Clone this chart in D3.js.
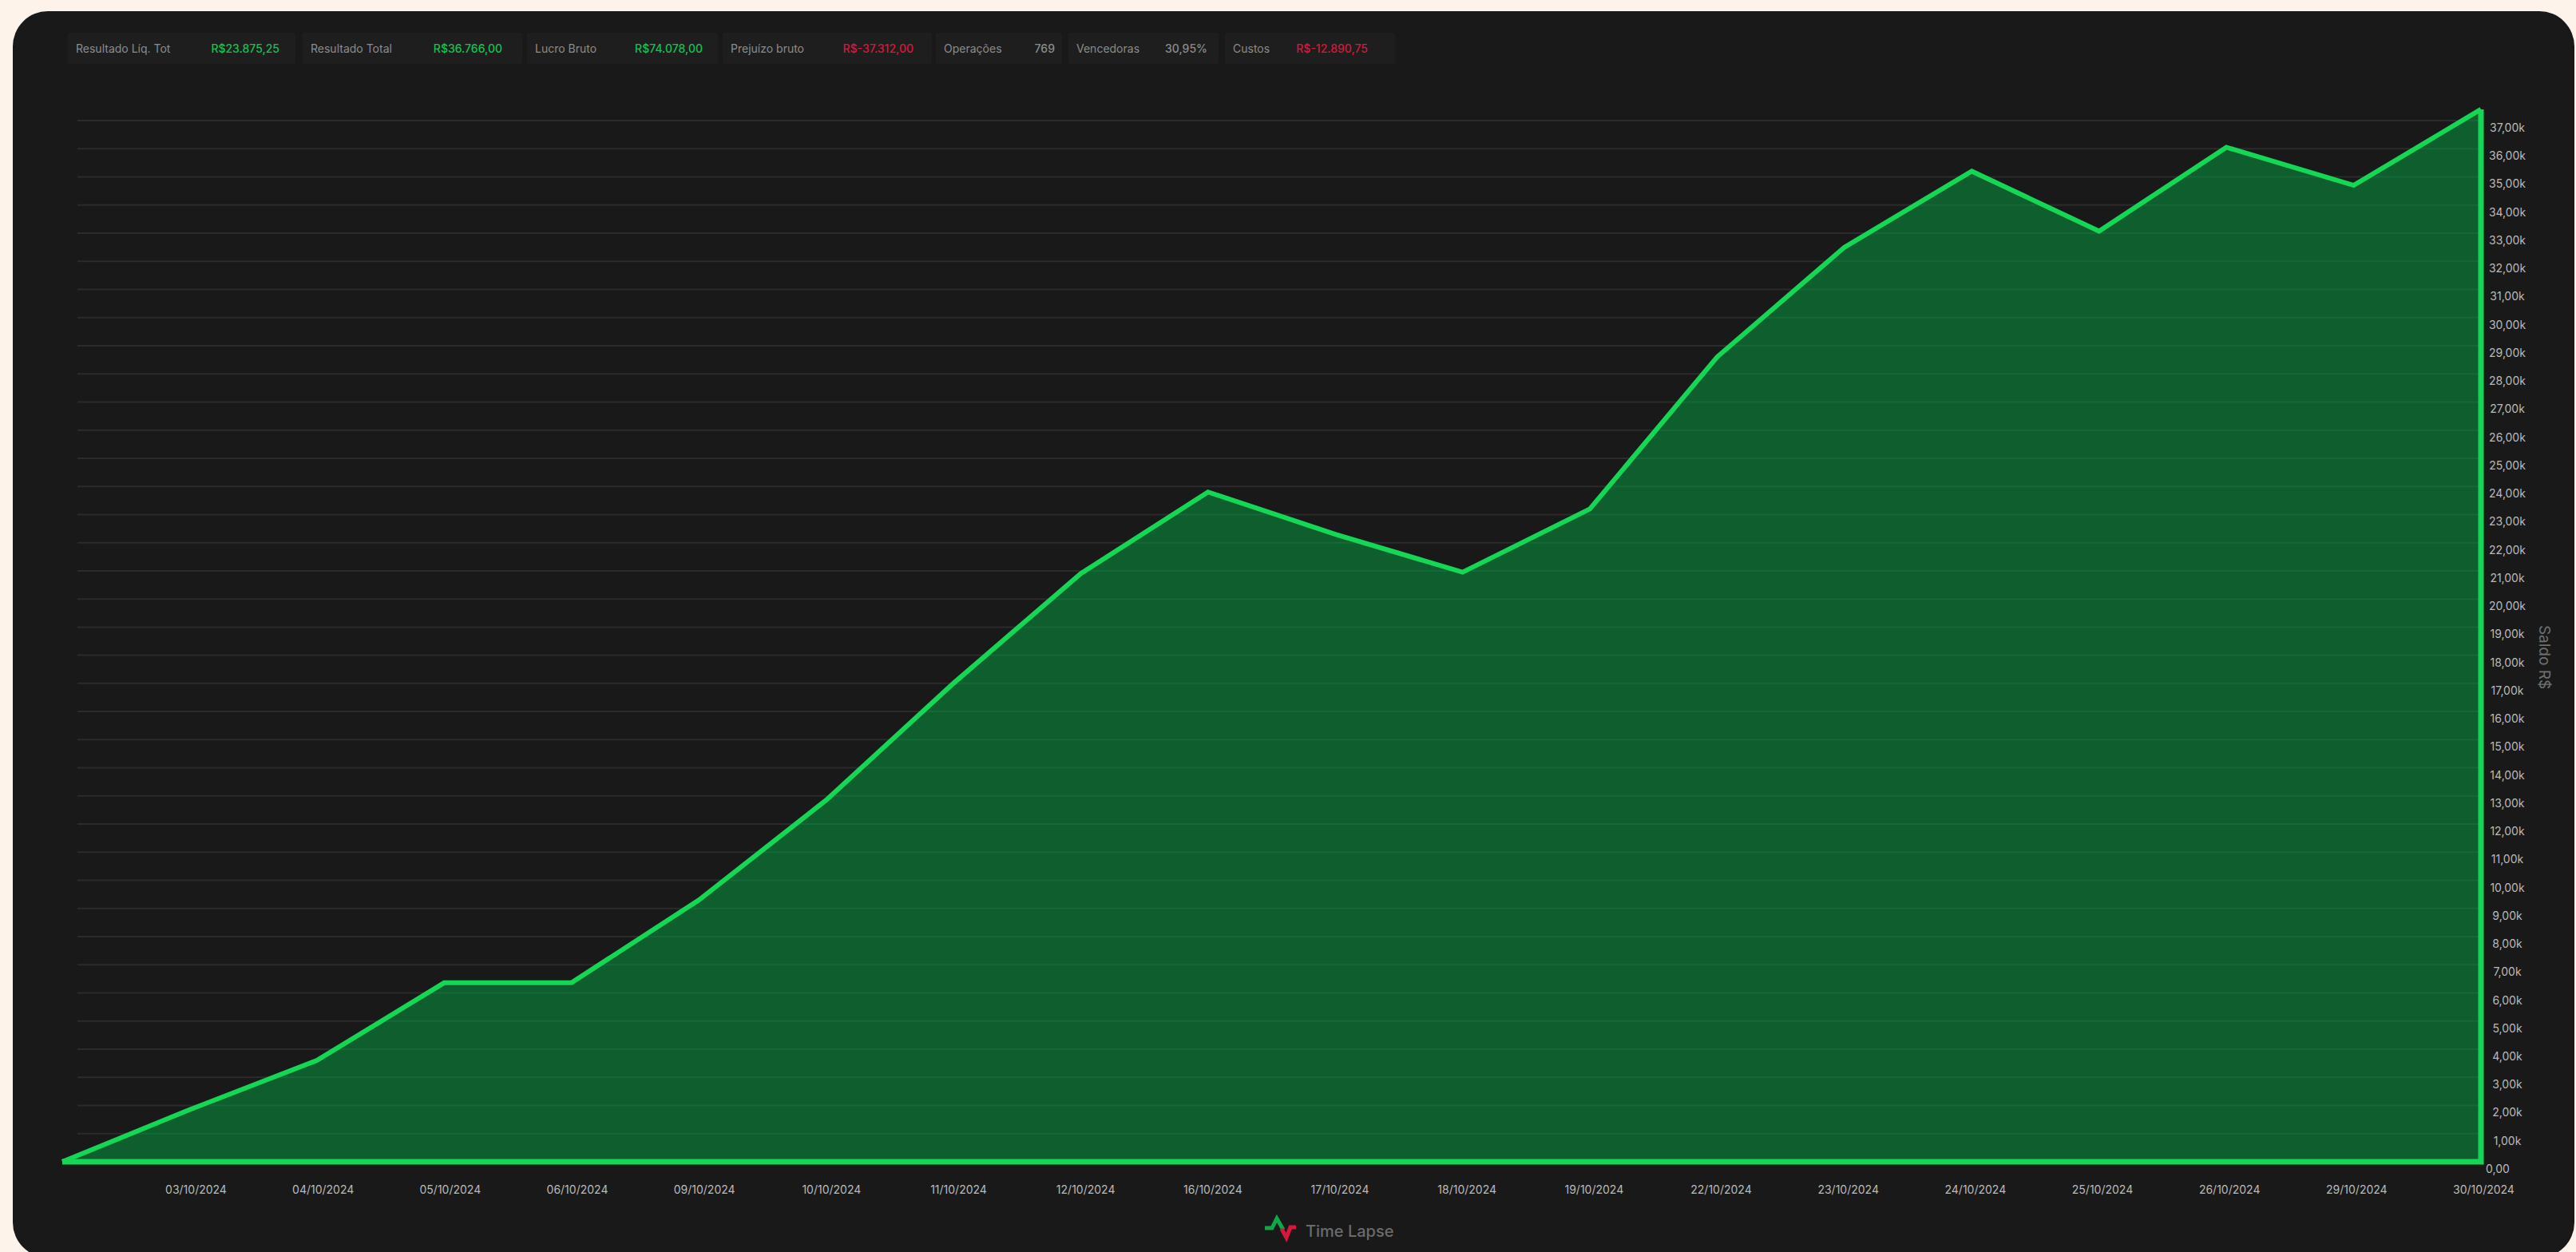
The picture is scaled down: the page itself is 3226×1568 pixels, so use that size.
<!DOCTYPE html>
<html>
<head>
<meta charset="utf-8">
<script src="https://cdn.jsdelivr.net/npm/d3@7"></script>
<style>
html, body { margin: 0; padding: 0; background: #fdf3ea; overflow: hidden; }
text { font-family: Inter, "Noto Sans", sans-serif; }
</style>
</head>
<body>
<svg id="chart" width="3226" height="1568"></svg>
<script>
var dates = ["02/10/2024", "03/10/2024", "04/10/2024", "05/10/2024", "06/10/2024", "09/10/2024", "10/10/2024",
    "11/10/2024", "12/10/2024", "16/10/2024", "17/10/2024", "18/10/2024", "19/10/2024", "22/10/2024",
    "23/10/2024", "24/10/2024", "25/10/2024", "26/10/2024", "29/10/2024", "30/10/2024"];
var saldo = [0, 1850, 3600, 6360, 6360, 9300, 12850, 17000, 20900, 23800, 22300, 20950, 23200, 28600,
    32500, 35200, 33070, 36050, 34700, 37400];
var yTicks = d3.range(0, 38000, 1000);

var statLabels = ["Resultado Líq. Tot", "Resultado Total", "Lucro Bruto", "Prejuízo bruto", "Operações", "Vencedoras", "Custos"];
var statValues = ["R$23.875,25", "R$36.766,00", "R$74.078,00", "R$-37.312,00", "769", "30,95%", "R$-12.890,75"];
var statTones = ["pos", "pos", "pos", "neg", "neutral", "neutral", "neg"];
var statLeft = [85, 379, 660, 905, 1172, 1338, 1534];
var statRight = [370, 654, 899, 1167, 1330, 1526, 1747];
var statValueEnd = [350, 629, 880, 1144, 1321, 1512, 1713];

var toneColor = { pos: "#10c44f", neg: "#d9173c", neutral: "#8c8c8c" };

var plotLeft = 78, plotRight = 3107, plotBottom = 1455, plotTop = 151;

var svg = d3.select("#chart");

// card
svg.append("rect")
    .attr("x", 16).attr("y", 14)
    .attr("width", 3208).attr("height", 1561)
    .attr("rx", 44)
    .attr("fill", "#191919");

var x = d3.scalePoint().domain(dates).range([plotLeft, plotRight]);
var y = d3.scaleLinear().domain([0, 37000]).range([plotBottom, plotTop]);
// the date labels sit a little right of their points
var xLabel = d3.scalePoint().domain(dates.slice(1)).range([245, 3110]);

// stat pills on top
var pills = svg.append("g").selectAll("g")
    .data(statLabels)
    .enter().append("g");

pills.append("rect")
    .attr("x", function(d, i) { return statLeft[i]; })
    .attr("y", 41)
    .attr("width", function(d, i) { return statRight[i] - statLeft[i]; })
    .attr("height", 39)
    .attr("rx", 3)
    .attr("fill", "#1e1e1e");

pills.append("text")
    .attr("x", function(d, i) { return statLeft[i] + 10; })
    .attr("y", 66)
    .attr("font-size", 14)
    .attr("fill", "#8c8c8c")
    .text(function(d) { return d; });

pills.append("text")
    .attr("x", function(d, i) { return statValueEnd[i]; })
    .attr("y", 66)
    .attr("text-anchor", "end")
    .attr("font-size", 14)
    .attr("font-weight", 500)
    .attr("fill", function(d, i) { return toneColor[statTones[i]]; })
    .text(function(d, i) { return statValues[i]; });

// grid
svg.append("g").selectAll("line")
    .data(yTicks.slice(1))
    .enter().append("line")
    .attr("x1", 97).attr("x2", plotRight)
    .attr("y1", function(d) { return y(d); })
    .attr("y2", function(d) { return y(d); })
    .attr("stroke", "#2b2b2b")
    .attr("stroke-width", 2);

var line = d3.line()
    .x(function(d, i) { return x(dates[i]); })
    .y(function(d) { return y(d); });

var area = d3.area()
    .x(function(d, i) { return x(dates[i]); })
    .y0(y(0))
    .y1(function(d) { return y(d); });

svg.append("path")
    .attr("d", area(saldo))
    .attr("fill", "#0f5f2e");

// grid shows faintly through the fill
svg.append("clipPath").attr("id", "areaClip").append("path").attr("d", area(saldo));
svg.append("g").attr("clip-path", "url(#areaClip)").selectAll("line")
    .data(yTicks.slice(1))
    .enter().append("line")
    .attr("x1", plotLeft).attr("x2", plotRight)
    .attr("y1", function(d) { return y(d); })
    .attr("y2", function(d) { return y(d); })
    .attr("stroke", "#176838")
    .attr("stroke-width", 2);

// bottom and right edges are a bit heavier than the curve
svg.append("path")
    .attr("d", "M" + x(dates[0]) + "," + y(0) + "L" + x(dates[19]) + "," + y(0) + "L" + x(dates[19]) + "," + y(saldo[19]))
    .attr("fill", "none")
    .attr("stroke", "#15d655")
    .attr("stroke-width", 7)
    .attr("stroke-linejoin", "miter");

svg.append("path")
    .attr("d", line(saldo))
    .attr("fill", "none")
    .attr("stroke", "#15d655")
    .attr("stroke-width", 6)
    .attr("stroke-linejoin", "miter");

// y axis
var yAxis = d3.axisRight(y)
    .tickValues(yTicks)
    .tickSize(0)
    .tickFormat(function(d) { return d == 0 ? "0,00" : (d / 1000) + ",00k"; });

var yG = svg.append("g")
    .attr("transform", "translate(3140,9)")
    .call(yAxis);
yG.select(".domain").remove();
yG.selectAll("text")
    .attr("x", 0)
    .attr("text-anchor", "middle")
    .attr("font-family", null)
    .attr("font-size", 14)
    .attr("fill", "#b9b9b9");
yG.selectAll("text").filter(function(d) { return d == 0; }).attr("x", -12);

// x axis
var xAxis = d3.axisBottom(xLabel).tickSize(0);
var xG = svg.append("g")
    .attr("transform", "translate(0,1484)")
    .call(xAxis);
xG.select(".domain").remove();
xG.selectAll("text")
    .attr("y", 0)
    .attr("dy", "0.75em")
    .attr("font-family", null)
    .attr("font-size", 14)
    .attr("fill", "#b9b9b9");

// axis title
svg.append("text")
    .attr("transform", "translate(3180,823) rotate(90)")
    .attr("text-anchor", "middle")
    .attr("font-size", 19)
    .attr("fill", "#6f6f6f")
    .text("Saldo R$");

// logo
var logo = svg.append("g").attr("transform", "translate(1583,1523)").attr("fill", "none").attr("stroke-width", 5);
logo.append("path").attr("d", "M1,15 L10,15 L16,3 L24,17").attr("stroke", "#12a54a");
logo.append("path").attr("d", "M22,16 L28,27 L33,14 L40,14").attr("stroke", "#d9173c");

svg.append("text")
    .attr("x", 1635).attr("y", 1549)
    .attr("font-size", 20)
    .attr("font-weight", 500)
    .attr("fill", "#6b6b6b")
    .text("Time Lapse");
</script>
</body>
</html>
